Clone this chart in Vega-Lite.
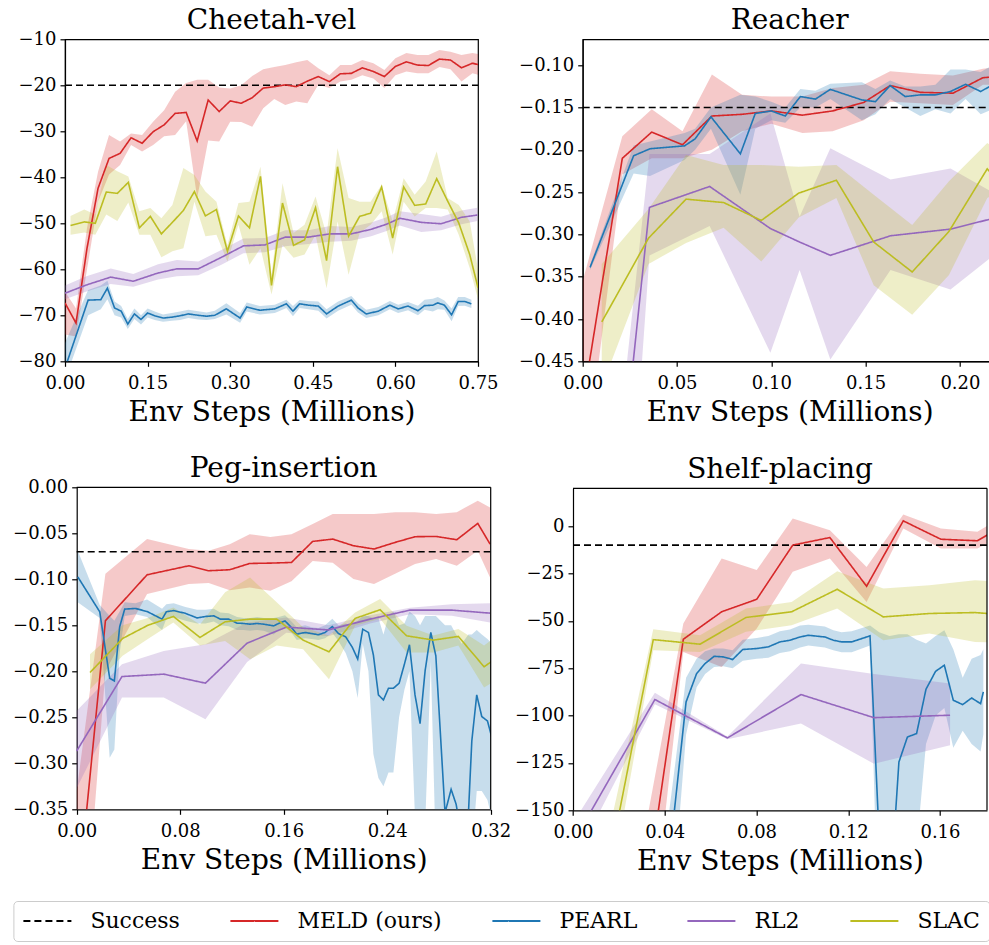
{
  "$schema": "https://vega.github.io/schema/vega-lite/v6.json",
  "background": "white",
  "padding": {"left": 7, "top": 6.3, "right": 0, "bottom": 5},
  "config": {
    "font": "DejaVu Serif",
    "locale": {"number": {"decimal": ".", "thousands": ",", "grouping": [3], "currency": ["$", ""], "minus": "\u2212"}},
    "view": {"stroke": "black", "strokeWidth": 1.2},
    "style": {
      "guide-label": {"font": "DejaVu Serif", "fontSize": 18, "fill": "black"},
      "guide-title": {"font": "DejaVu Serif", "fontSize": 28, "fontWeight": "normal", "fill": "black"},
      "group-title": {"font": "DejaVu Serif", "fontSize": 28, "fontWeight": "normal", "fill": "black"}
    },
    "axis": {"labelFont": "DejaVu Serif", "labelFontSize": 18, "labelColor": "black", "titleFont": "DejaVu Serif", "titleFontSize": 28, "titleFontWeight": "normal", "titleColor": "black", "tickSize": 5, "tickColor": "black", "tickWidth": 1.2, "domainColor": "black", "domainWidth": 1.2, "grid": false, "labelFlush": false, "labelOverlap": false, "labelPadding": 4, "titlePadding": 6},
    "axisX": {"labelPadding": 8},
    "axisY": {"labelExpr": "replace(datum.label, '-', '\u2212')"},
    "title": {"font": "DejaVu Serif", "fontSize": 28, "fontWeight": "normal", "color": "black", "anchor": "middle", "frame": "group", "baseline": "alphabetic"},
    "legend": {"orient": "none", "legendX": -51.6, "legendY": 861.7, "direction": "horizontal", "columns": 5, "symbolType": "M-2.4,0H2.4", "symbolSize": 400, "symbolOffset": 14, "symbolStrokeWidth": 2, "labelFont": "DejaVu Serif", "labelFontSize": 22, "labelColor": "black", "labelOffset": 32, "columnPadding": 46, "strokeColor": "#cccccc", "cornerRadius": 4, "padding": 9, "fillColor": "white"}
  },
  "datasets": {
    "cheetah": [
      {"m":"Success","x":0,"y":-20},{"m":"Success","x":0.75,"y":-20},
      {"m":"MELD (ours)","x":0.00,"y":-67.3,"lo":-74.2,"hi":-64.8},
      {"m":"MELD (ours)","x":0.02,"y":-71.7,"lo":-74.6,"hi":-68.5},
      {"m":"MELD (ours)","x":0.04,"y":-55.4,"lo":-60,"hi":-51},
      {"m":"MELD (ours)","x":0.06,"y":-42.4,"lo":-45.3,"hi":-38.8},
      {"m":"MELD (ours)","x":0.08,"y":-35.9,"lo":-39.4,"hi":-30.8},
      {"m":"MELD (ours)","x":0.10,"y":-34.8,"lo":-37.3,"hi":-32.2},
      {"m":"MELD (ours)","x":0.12,"y":-31.4,"lo":-33.0,"hi":-30.5},
      {"m":"MELD (ours)","x":0.14,"y":-32.6,"lo":-34.4,"hi":-30.8},
      {"m":"MELD (ours)","x":0.16,"y":-30.1,"lo":-33.0,"hi":-27.9},
      {"m":"MELD (ours)","x":0.18,"y":-28.6,"lo":-31.1,"hi":-25.4},
      {"m":"MELD (ours)","x":0.20,"y":-26.1,"lo":-30.8,"hi":-21.4},
      {"m":"MELD (ours)","x":0.22,"y":-25.9,"lo":-27.8,"hi":-19.5},
      {"m":"MELD (ours)","x":0.24,"y":-32.1,"lo":-44.5,"hi":-18.8},
      {"m":"MELD (ours)","x":0.26,"y":-23.2,"lo":-32.0,"hi":-18.8},
      {"m":"MELD (ours)","x":0.28,"y":-25.7,"lo":-32.2,"hi":-20.5},
      {"m":"MELD (ours)","x":0.30,"y":-23.4,"lo":-27.9,"hi":-20.7},
      {"m":"MELD (ours)","x":0.32,"y":-23.9,"lo":-28.0,"hi":-20.0},
      {"m":"MELD (ours)","x":0.34,"y":-22.7,"lo":-29.0,"hi":-18.0},
      {"m":"MELD (ours)","x":0.36,"y":-20.6,"lo":-25.0,"hi":-16.5},
      {"m":"MELD (ours)","x":0.38,"y":-20.3,"lo":-23.0,"hi":-16.0},
      {"m":"MELD (ours)","x":0.40,"y":-19.9,"lo":-24.3,"hi":-15.6},
      {"m":"MELD (ours)","x":0.42,"y":-20.3,"lo":-23.5,"hi":-15.0},
      {"m":"MELD (ours)","x":0.44,"y":-19.1,"lo":-23.9,"hi":-14.5},
      {"m":"MELD (ours)","x":0.46,"y":-18.1,"lo":-19.9,"hi":-16.3},
      {"m":"MELD (ours)","x":0.48,"y":-19.2,"lo":-20.6,"hi":-17.8},
      {"m":"MELD (ours)","x":0.50,"y":-17.5,"lo":-19.2,"hi":-15.6},
      {"m":"MELD (ours)","x":0.52,"y":-17.4,"lo":-18.8,"hi":-15.6},
      {"m":"MELD (ours)","x":0.54,"y":-16.2,"lo":-17.8,"hi":-14.5},
      {"m":"MELD (ours)","x":0.56,"y":-17.0,"lo":-18.5,"hi":-15.2},
      {"m":"MELD (ours)","x":0.58,"y":-18.1,"lo":-20.6,"hi":-16.7},
      {"m":"MELD (ours)","x":0.60,"y":-15.9,"lo":-17.8,"hi":-14.1},
      {"m":"MELD (ours)","x":0.62,"y":-14.9,"lo":-17.0,"hi":-13.0},
      {"m":"MELD (ours)","x":0.64,"y":-15.6,"lo":-17.4,"hi":-13.4},
      {"m":"MELD (ours)","x":0.66,"y":-15.7,"lo":-17.4,"hi":-13.4},
      {"m":"MELD (ours)","x":0.68,"y":-14.3,"lo":-16.0,"hi":-12.3},
      {"m":"MELD (ours)","x":0.70,"y":-14.5,"lo":-16.5,"hi":-12.7},
      {"m":"MELD (ours)","x":0.72,"y":-16.2,"lo":-19.2,"hi":-13.4},
      {"m":"MELD (ours)","x":0.74,"y":-15.2,"lo":-17.4,"hi":-13.0},
      {"m":"MELD (ours)","x":0.76,"y":-15.8,"lo":-18.0,"hi":-13.4},
      {"m":"PEARL","x":0.0,"y":-81.5,"lo":-84,"hi":-76},
      {"m":"PEARL","x":0.042,"y":-66.7,"lo":-70,"hi":-64.5},
      {"m":"PEARL","x":0.065,"y":-66.6,"lo":-68.7,"hi":-63.5},
      {"m":"PEARL","x":0.077,"y":-64.1,"lo":-66.5,"hi":-62.5},
      {"m":"PEARL","x":0.090,"y":-68.4,"lo":-70.0,"hi":-67.0},
      {"m":"PEARL","x":0.102,"y":-69.1,"lo":-70.5,"hi":-68.0},
      {"m":"PEARL","x":0.114,"y":-71.9,"lo":-73.0,"hi":-70.8},
      {"m":"PEARL","x":0.126,"y":-69.7,"lo":-70.8,"hi":-68.5},
      {"m":"PEARL","x":0.138,"y":-70.9,"lo":-72.0,"hi":-70.0},
      {"m":"PEARL","x":0.150,"y":-69.5,"lo":-70.5,"hi":-68.5},
      {"m":"PEARL","x":0.163,"y":-70.1,"lo":-71.0,"hi":-69.2},
      {"m":"PEARL","x":0.178,"y":-70.6,"lo":-71.4,"hi":-69.8},
      {"m":"PEARL","x":0.194,"y":-70.4,"lo":-71.2,"hi":-69.5},
      {"m":"PEARL","x":0.209,"y":-70.1,"lo":-71.0,"hi":-69.2},
      {"m":"PEARL","x":0.224,"y":-69.7,"lo":-70.6,"hi":-68.8},
      {"m":"PEARL","x":0.242,"y":-70.0,"lo":-70.9,"hi":-69.1},
      {"m":"PEARL","x":0.257,"y":-70.2,"lo":-71.0,"hi":-69.4},
      {"m":"PEARL","x":0.272,"y":-70.0,"lo":-70.8,"hi":-69.0},
      {"m":"PEARL","x":0.293,"y":-68.6,"lo":-69.8,"hi":-67.4},
      {"m":"PEARL","x":0.318,"y":-70.6,"lo":-71.6,"hi":-69.5},
      {"m":"PEARL","x":0.330,"y":-68.2,"lo":-69.2,"hi":-67.2},
      {"m":"PEARL","x":0.354,"y":-68.9,"lo":-69.8,"hi":-68.0},
      {"m":"PEARL","x":0.381,"y":-68.6,"lo":-69.5,"hi":-67.7},
      {"m":"PEARL","x":0.402,"y":-67.5,"lo":-68.4,"hi":-66.6},
      {"m":"PEARL","x":0.414,"y":-69.1,"lo":-70.2,"hi":-68.0},
      {"m":"PEARL","x":0.426,"y":-67.5,"lo":-68.4,"hi":-66.7},
      {"m":"PEARL","x":0.442,"y":-67.8,"lo":-68.7,"hi":-66.9},
      {"m":"PEARL","x":0.460,"y":-68.0,"lo":-69.0,"hi":-67.0},
      {"m":"PEARL","x":0.475,"y":-69.7,"lo":-70.7,"hi":-68.7},
      {"m":"PEARL","x":0.496,"y":-68.0,"lo":-69.0,"hi":-67.0},
      {"m":"PEARL","x":0.520,"y":-66.7,"lo":-67.7,"hi":-65.8},
      {"m":"PEARL","x":0.532,"y":-68.4,"lo":-69.4,"hi":-67.4},
      {"m":"PEARL","x":0.547,"y":-69.7,"lo":-70.6,"hi":-68.8},
      {"m":"PEARL","x":0.569,"y":-69.1,"lo":-70.0,"hi":-68.2},
      {"m":"PEARL","x":0.590,"y":-67.8,"lo":-68.7,"hi":-66.9},
      {"m":"PEARL","x":0.605,"y":-68.6,"lo":-69.5,"hi":-67.7},
      {"m":"PEARL","x":0.623,"y":-68.0,"lo":-68.9,"hi":-67.1},
      {"m":"PEARL","x":0.641,"y":-69.0,"lo":-70.0,"hi":-67.9},
      {"m":"PEARL","x":0.653,"y":-67.9,"lo":-68.8,"hi":-66.6},
      {"m":"PEARL","x":0.668,"y":-67.8,"lo":-69.2,"hi":-66.4},
      {"m":"PEARL","x":0.677,"y":-67.3,"lo":-68.7,"hi":-66.0},
      {"m":"PEARL","x":0.689,"y":-67.8,"lo":-68.8,"hi":-66.8},
      {"m":"PEARL","x":0.702,"y":-69.9,"lo":-71.3,"hi":-68.5},
      {"m":"PEARL","x":0.714,"y":-67.0,"lo":-68.0,"hi":-66.0},
      {"m":"PEARL","x":0.726,"y":-67.0,"lo":-67.9,"hi":-66.0},
      {"m":"PEARL","x":0.738,"y":-67.5,"lo":-68.4,"hi":-66.6},
      {"m":"RL2","x":0.0,"y":-65.2,"lo":-66.5,"hi":-63.5},
      {"m":"RL2","x":0.039,"y":-63.4,"lo":-64.8,"hi":-61.5},
      {"m":"RL2","x":0.083,"y":-61.7,"lo":-63.2,"hi":-59.8},
      {"m":"RL2","x":0.124,"y":-62.6,"lo":-63.8,"hi":-61.0},
      {"m":"RL2","x":0.169,"y":-60.8,"lo":-62.2,"hi":-58.9},
      {"m":"RL2","x":0.203,"y":-59.9,"lo":-61.5,"hi":-58.0},
      {"m":"RL2","x":0.242,"y":-59.9,"lo":-61.3,"hi":-58.3},
      {"m":"RL2","x":0.284,"y":-57.4,"lo":-59.0,"hi":-55.8},
      {"m":"RL2","x":0.324,"y":-54.9,"lo":-56.5,"hi":-53.3},
      {"m":"RL2","x":0.363,"y":-54.7,"lo":-56.3,"hi":-53.2},
      {"m":"RL2","x":0.400,"y":-53.0,"lo":-55.0,"hi":-51.5},
      {"m":"RL2","x":0.442,"y":-53.0,"lo":-54.5,"hi":-51.5},
      {"m":"RL2","x":0.481,"y":-52.3,"lo":-54.0,"hi":-50.6},
      {"m":"RL2","x":0.520,"y":-52.3,"lo":-53.8,"hi":-50.8},
      {"m":"RL2","x":0.556,"y":-51.3,"lo":-52.8,"hi":-49.8},
      {"m":"RL2","x":0.584,"y":-50.2,"lo":-51.7,"hi":-48.7},
      {"m":"RL2","x":0.608,"y":-48.9,"lo":-50.5,"hi":-47.4},
      {"m":"RL2","x":0.647,"y":-49.8,"lo":-51.9,"hi":-48.0},
      {"m":"RL2","x":0.683,"y":-50.1,"lo":-51.5,"hi":-48.6},
      {"m":"RL2","x":0.720,"y":-48.7,"lo":-50.2,"hi":-47.2},
      {"m":"RL2","x":0.749,"y":-48.2,"lo":-49.5,"hi":-46.6},
      {"m":"SLAC","x":0.010,"y":-50.5,"lo":-52.5,"hi":-48.4},
      {"m":"SLAC","x":0.035,"y":-49.7,"lo":-52,"hi":-47},
      {"m":"SLAC","x":0.055,"y":-50.0,"lo":-52.5,"hi":-48.1},
      {"m":"SLAC","x":0.075,"y":-43.2,"lo":-48.1,"hi":-37.3},
      {"m":"SLAC","x":0.095,"y":-43.5,"lo":-49.5,"hi":-38.7},
      {"m":"SLAC","x":0.115,"y":-41.1,"lo":-45.5,"hi":-39.8},
      {"m":"SLAC","x":0.135,"y":-51.0,"lo":-52.5,"hi":-47.4},
      {"m":"SLAC","x":0.155,"y":-48.5,"lo":-52.5,"hi":-46.7},
      {"m":"SLAC","x":0.175,"y":-52.3,"lo":-57.4,"hi":-48.9},
      {"m":"SLAC","x":0.195,"y":-49.8,"lo":-56.1,"hi":-46.0},
      {"m":"SLAC","x":0.215,"y":-47.2,"lo":-55.4,"hi":-38.0},
      {"m":"SLAC","x":0.235,"y":-43.1,"lo":-45.3,"hi":-39.5},
      {"m":"SLAC","x":0.255,"y":-48.4,"lo":-52.8,"hi":-43.1},
      {"m":"SLAC","x":0.275,"y":-47.0,"lo":-52.5,"hi":-45.3},
      {"m":"SLAC","x":0.295,"y":-56.1,"lo":-58.3,"hi":-54.7},
      {"m":"SLAC","x":0.315,"y":-48.4,"lo":-50.3,"hi":-45.6},
      {"m":"SLAC","x":0.335,"y":-51.0,"lo":-59.0,"hi":-45.3},
      {"m":"SLAC","x":0.355,"y":-39.8,"lo":-55.4,"hi":-37.7},
      {"m":"SLAC","x":0.375,"y":-63.5,"lo":-65.5,"hi":-61.2},
      {"m":"SLAC","x":0.395,"y":-45.6,"lo":-54.7,"hi":-41.3},
      {"m":"SLAC","x":0.415,"y":-54.8,"lo":-57.5,"hi":-52.1},
      {"m":"SLAC","x":0.435,"y":-53.6,"lo":-56.8,"hi":-50.3},
      {"m":"SLAC","x":0.455,"y":-46.6,"lo":-52.5,"hi":-44.2},
      {"m":"SLAC","x":0.475,"y":-58.1,"lo":-64.1,"hi":-52.5},
      {"m":"SLAC","x":0.495,"y":-37.7,"lo":-49.6,"hi":-33.7},
      {"m":"SLAC","x":0.515,"y":-52.8,"lo":-61.2,"hi":-44.5},
      {"m":"SLAC","x":0.535,"y":-48.5,"lo":-52.1,"hi":-45.3},
      {"m":"SLAC","x":0.555,"y":-47.8,"lo":-50.3,"hi":-45.3},
      {"m":"SLAC","x":0.575,"y":-42.1,"lo":-47.4,"hi":-41.6},
      {"m":"SLAC","x":0.595,"y":-53.2,"lo":-56.8,"hi":-49.6},
      {"m":"SLAC","x":0.615,"y":-42.1,"lo":-45.3,"hi":-40.2},
      {"m":"SLAC","x":0.635,"y":-46.1,"lo":-48.5,"hi":-43.8},
      {"m":"SLAC","x":0.655,"y":-45.8,"lo":-46.7,"hi":-40.9},
      {"m":"SLAC","x":0.675,"y":-40.3,"lo":-46.7,"hi":-34.4},
      {"m":"SLAC","x":0.695,"y":-45.2,"lo":-47.0,"hi":-44.5},
      {"m":"SLAC","x":0.715,"y":-49.9,"lo":-52.5,"hi":-46.0},
      {"m":"SLAC","x":0.735,"y":-56.8,"lo":-59.7,"hi":-49.6},
      {"m":"SLAC","x":0.750,"y":-64.0,"lo":-66.5,"hi":-60.0}
    ],
    "reacher": [
      {"m":"Success","x":0,"y":-0.15},{"m":"Success","x":0.22,"y":-0.15},
      {"m":"MELD (ours)","x":0.0,"y":-0.50,"lo":-0.60,"hi":-0.355},
      {"m":"MELD (ours)","x":0.021,"y":-0.210,"lo":-0.229,"hi":-0.184},
      {"m":"MELD (ours)","x":0.0366,"y":-0.179,"lo":-0.21,"hi":-0.152},
      {"m":"MELD (ours)","x":0.0529,"y":-0.194,"lo":-0.21,"hi":-0.178},
      {"m":"MELD (ours)","x":0.0685,"y":-0.160,"lo":-0.200,"hi":-0.111},
      {"m":"MELD (ours)","x":0.0845,"y":-0.158,"lo":-0.178,"hi":-0.135},
      {"m":"MELD (ours)","x":0.100,"y":-0.154,"lo":-0.169,"hi":-0.137},
      {"m":"MELD (ours)","x":0.1165,"y":-0.159,"lo":-0.180,"hi":-0.137},
      {"m":"MELD (ours)","x":0.1325,"y":-0.154,"lo":-0.178,"hi":-0.127},
      {"m":"MELD (ours)","x":0.149,"y":-0.144,"lo":-0.165,"hi":-0.123},
      {"m":"MELD (ours)","x":0.163,"y":-0.124,"lo":-0.143,"hi":-0.107},
      {"m":"MELD (ours)","x":0.179,"y":-0.132,"lo":-0.145,"hi":-0.110},
      {"m":"MELD (ours)","x":0.1963,"y":-0.133,"lo":-0.147,"hi":-0.112},
      {"m":"MELD (ours)","x":0.2122,"y":-0.1147,"lo":-0.123,"hi":-0.104},
      {"m":"MELD (ours)","x":0.2195,"y":-0.1134,"lo":-0.123,"hi":-0.102},
      {"m":"PEARL","x":0.0039,"y":-0.339,"lo":-0.342,"hi":-0.336},
      {"m":"PEARL","x":0.027,"y":-0.207,"lo":-0.228,"hi":-0.195},
      {"m":"PEARL","x":0.0357,"y":-0.1987,"lo":-0.231,"hi":-0.19},
      {"m":"PEARL","x":0.054,"y":-0.1953,"lo":-0.212,"hi":-0.18},
      {"m":"PEARL","x":0.0596,"y":-0.187,"lo":-0.20,"hi":-0.175},
      {"m":"PEARL","x":0.068,"y":-0.161,"lo":-0.175,"hi":-0.15},
      {"m":"PEARL","x":0.0836,"y":-0.2047,"lo":-0.253,"hi":-0.135},
      {"m":"PEARL","x":0.0915,"y":-0.157,"lo":-0.175,"hi":-0.137},
      {"m":"PEARL","x":0.100,"y":-0.154,"lo":-0.165,"hi":-0.143},
      {"m":"PEARL","x":0.1074,"y":-0.160,"lo":-0.168,"hi":-0.150},
      {"m":"PEARL","x":0.1154,"y":-0.137,"lo":-0.150,"hi":-0.128},
      {"m":"PEARL","x":0.1234,"y":-0.140,"lo":-0.150,"hi":-0.13},
      {"m":"PEARL","x":0.1313,"y":-0.1285,"lo":-0.140,"hi":-0.122},
      {"m":"PEARL","x":0.148,"y":-0.141,"lo":-0.165,"hi":-0.120},
      {"m":"PEARL","x":0.1552,"y":-0.143,"lo":-0.158,"hi":-0.128},
      {"m":"PEARL","x":0.163,"y":-0.124,"lo":-0.140,"hi":-0.118},
      {"m":"PEARL","x":0.171,"y":-0.137,"lo":-0.150,"hi":-0.125},
      {"m":"PEARL","x":0.179,"y":-0.135,"lo":-0.160,"hi":-0.125},
      {"m":"PEARL","x":0.187,"y":-0.135,"lo":-0.152,"hi":-0.123},
      {"m":"PEARL","x":0.195,"y":-0.131,"lo":-0.157,"hi":-0.105},
      {"m":"PEARL","x":0.203,"y":-0.1225,"lo":-0.14,"hi":-0.105},
      {"m":"PEARL","x":0.211,"y":-0.131,"lo":-0.158,"hi":-0.108},
      {"m":"PEARL","x":0.2195,"y":-0.1205,"lo":-0.15,"hi":-0.097},
      {"m":"RL2","x":0.0235,"y":-0.52,"lo":-0.70,"hi":-0.45},
      {"m":"RL2","x":0.0354,"y":-0.268,"lo":-0.325,"hi":-0.205},
      {"m":"RL2","x":0.0673,"y":-0.2433,"lo":-0.29,"hi":-0.205},
      {"m":"RL2","x":0.0995,"y":-0.293,"lo":-0.44,"hi":-0.157},
      {"m":"RL2","x":0.115,"y":-0.309,"lo":-0.342,"hi":-0.279},
      {"m":"RL2","x":0.1313,"y":-0.3247,"lo":-0.448,"hi":-0.198},
      {"m":"RL2","x":0.1632,"y":-0.3016,"lo":-0.342,"hi":-0.235},
      {"m":"RL2","x":0.195,"y":-0.2937,"lo":-0.365,"hi":-0.222},
      {"m":"RL2","x":0.2195,"y":-0.280,"lo":-0.322,"hi":-0.253},
      {"m":"SLAC","x":0.0101,"y":-0.4035,"lo":-0.48,"hi":-0.335},
      {"m":"SLAC","x":0.0349,"y":-0.3044,"lo":-0.335,"hi":-0.27},
      {"m":"SLAC","x":0.0548,"y":-0.2583,"lo":-0.31,"hi":-0.206},
      {"m":"SLAC","x":0.0747,"y":-0.2623,"lo":-0.292,"hi":-0.218},
      {"m":"SLAC","x":0.0947,"y":-0.2835,"lo":-0.332,"hi":-0.218},
      {"m":"SLAC","x":0.1145,"y":-0.2512,"lo":-0.28,"hi":-0.22},
      {"m":"SLAC","x":0.1345,"y":-0.2359,"lo":-0.257,"hi":-0.218},
      {"m":"SLAC","x":0.1543,"y":-0.309,"lo":-0.36,"hi":-0.253},
      {"m":"SLAC","x":0.1747,"y":-0.3444,"lo":-0.395,"hi":-0.289},
      {"m":"SLAC","x":0.1942,"y":-0.2964,"lo":-0.348,"hi":-0.237},
      {"m":"SLAC","x":0.2145,"y":-0.2224,"lo":-0.257,"hi":-0.192},
      {"m":"SLAC","x":0.2195,"y":-0.2354,"lo":-0.25,"hi":-0.20}
    ],
    "peg": [
      {"m":"Success","x":0,"y":-0.07},{"m":"Success","x":0.32,"y":-0.07},
      {"m":"MELD (ours)","x":0.0,"y":-0.46,"lo":-0.60,"hi":-0.33},
      {"m":"MELD (ours)","x":0.0222,"y":-0.145,"lo":-0.20,"hi":-0.094},
      {"m":"MELD (ours)","x":0.0544,"y":-0.0951,"lo":-0.116,"hi":-0.0563},
      {"m":"MELD (ours)","x":0.0866,"y":-0.0853,"lo":-0.105,"hi":-0.067},
      {"m":"MELD (ours)","x":0.102,"y":-0.0907,"lo":-0.104,"hi":-0.069},
      {"m":"MELD (ours)","x":0.1183,"y":-0.0896,"lo":-0.112,"hi":-0.062},
      {"m":"MELD (ours)","x":0.1337,"y":-0.0828,"lo":-0.109,"hi":-0.051},
      {"m":"MELD (ours)","x":0.1497,"y":-0.0824,"lo":-0.1125,"hi":-0.054},
      {"m":"MELD (ours)","x":0.166,"y":-0.0817,"lo":-0.102,"hi":-0.051},
      {"m":"MELD (ours)","x":0.1824,"y":-0.0588,"lo":-0.080,"hi":-0.040},
      {"m":"MELD (ours)","x":0.1979,"y":-0.0563,"lo":-0.082,"hi":-0.029},
      {"m":"MELD (ours)","x":0.2139,"y":-0.0635,"lo":-0.0998,"hi":-0.029},
      {"m":"MELD (ours)","x":0.2298,"y":-0.0671,"lo":-0.105,"hi":-0.029},
      {"m":"MELD (ours)","x":0.2461,"y":-0.0599,"lo":-0.094,"hi":-0.027},
      {"m":"MELD (ours)","x":0.2615,"y":-0.0537,"lo":-0.0835,"hi":-0.027},
      {"m":"MELD (ours)","x":0.2778,"y":-0.0534,"lo":-0.078,"hi":-0.029},
      {"m":"MELD (ours)","x":0.2938,"y":-0.057,"lo":-0.0853,"hi":-0.027},
      {"m":"MELD (ours)","x":0.3100,"y":-0.0392,"lo":-0.069,"hi":-0.0145},
      {"m":"MELD (ours)","x":0.3195,"y":-0.0617,"lo":-0.098,"hi":-0.022},
      {"m":"PEARL","x":0.0008,"y":-0.0973,"lo":-0.125,"hi":-0.069},
      {"m":"PEARL","x":0.0178,"y":-0.1353,"lo":-0.142,"hi":-0.128},
      {"m":"PEARL","x":0.0255,"y":-0.2075,"lo":-0.294,"hi":-0.14},
      {"m":"PEARL","x":0.0291,"y":-0.2104,"lo":-0.285,"hi":-0.145},
      {"m":"PEARL","x":0.0332,"y":-0.1517,"lo":-0.18,"hi":-0.135},
      {"m":"PEARL","x":0.0371,"y":-0.1324,"lo":-0.14,"hi":-0.125},
      {"m":"PEARL","x":0.0454,"y":-0.1317,"lo":-0.138,"hi":-0.126},
      {"m":"PEARL","x":0.0544,"y":-0.135,"lo":-0.141,"hi":-0.122},
      {"m":"PEARL","x":0.066,"y":-0.1433,"lo":-0.155,"hi":-0.132},
      {"m":"PEARL","x":0.0693,"y":-0.1353,"lo":-0.143,"hi":-0.127},
      {"m":"PEARL","x":0.075,"y":-0.134,"lo":-0.141,"hi":-0.126},
      {"m":"PEARL","x":0.084,"y":-0.137,"lo":-0.145,"hi":-0.13},
      {"m":"PEARL","x":0.093,"y":-0.142,"lo":-0.148,"hi":-0.133},
      {"m":"PEARL","x":0.0995,"y":-0.1404,"lo":-0.148,"hi":-0.133},
      {"m":"PEARL","x":0.106,"y":-0.1397,"lo":-0.146,"hi":-0.132},
      {"m":"PEARL","x":0.111,"y":-0.1433,"lo":-0.15,"hi":-0.136},
      {"m":"PEARL","x":0.1175,"y":-0.1433,"lo":-0.151,"hi":-0.137},
      {"m":"PEARL","x":0.124,"y":-0.1477,"lo":-0.155,"hi":-0.141},
      {"m":"PEARL","x":0.129,"y":-0.148,"lo":-0.155,"hi":-0.142},
      {"m":"PEARL","x":0.134,"y":-0.1488,"lo":-0.156,"hi":-0.142},
      {"m":"PEARL","x":0.1394,"y":-0.148,"lo":-0.155,"hi":-0.141},
      {"m":"PEARL","x":0.1446,"y":-0.1488,"lo":-0.156,"hi":-0.142},
      {"m":"PEARL","x":0.1523,"y":-0.1506,"lo":-0.16,"hi":-0.142},
      {"m":"PEARL","x":0.1561,"y":-0.148,"lo":-0.155,"hi":-0.141},
      {"m":"PEARL","x":0.161,"y":-0.1452,"lo":-0.152,"hi":-0.139},
      {"m":"PEARL","x":0.166,"y":-0.1524,"lo":-0.158,"hi":-0.146},
      {"m":"PEARL","x":0.1701,"y":-0.1596,"lo":-0.166,"hi":-0.152},
      {"m":"PEARL","x":0.1765,"y":-0.1578,"lo":-0.164,"hi":-0.15},
      {"m":"PEARL","x":0.1817,"y":-0.159,"lo":-0.165,"hi":-0.152},
      {"m":"PEARL","x":0.1868,"y":-0.1603,"lo":-0.166,"hi":-0.153},
      {"m":"PEARL","x":0.192,"y":-0.1578,"lo":-0.164,"hi":-0.15},
      {"m":"PEARL","x":0.1976,"y":-0.1513,"lo":-0.158,"hi":-0.143},
      {"m":"PEARL","x":0.2023,"y":-0.159,"lo":-0.167,"hi":-0.15},
      {"m":"PEARL","x":0.2079,"y":-0.1625,"lo":-0.18,"hi":-0.148},
      {"m":"PEARL","x":0.2131,"y":-0.1741,"lo":-0.2,"hi":-0.15},
      {"m":"PEARL","x":0.2172,"y":-0.1868,"lo":-0.229,"hi":-0.145},
      {"m":"PEARL","x":0.2211,"y":-0.1542,"lo":-0.17,"hi":-0.14},
      {"m":"PEARL","x":0.2255,"y":-0.1578,"lo":-0.20,"hi":-0.14},
      {"m":"PEARL","x":0.2293,"y":-0.1821,"lo":-0.29,"hi":-0.142},
      {"m":"PEARL","x":0.2332,"y":-0.2257,"lo":-0.316,"hi":-0.142},
      {"m":"PEARL","x":0.2371,"y":-0.2311,"lo":-0.325,"hi":-0.16},
      {"m":"PEARL","x":0.241,"y":-0.2184,"lo":-0.31,"hi":-0.14},
      {"m":"PEARL","x":0.2448,"y":-0.2184,"lo":-0.31,"hi":-0.135},
      {"m":"PEARL","x":0.2492,"y":-0.213,"lo":-0.25,"hi":-0.15},
      {"m":"PEARL","x":0.2533,"y":-0.1923,"lo":-0.22,"hi":-0.148},
      {"m":"PEARL","x":0.2572,"y":-0.1712,"lo":-0.2,"hi":-0.135},
      {"m":"PEARL","x":0.2615,"y":-0.2257,"lo":-0.36,"hi":-0.14},
      {"m":"PEARL","x":0.2654,"y":-0.2568,"lo":-0.40,"hi":-0.15},
      {"m":"PEARL","x":0.2693,"y":-0.1995,"lo":-0.37,"hi":-0.14},
      {"m":"PEARL","x":0.2737,"y":-0.1578,"lo":-0.19,"hi":-0.14},
      {"m":"PEARL","x":0.2776,"y":-0.1832,"lo":-0.40,"hi":-0.14},
      {"m":"PEARL","x":0.2847,"y":-0.3537,"lo":-0.50,"hi":-0.15},
      {"m":"PEARL","x":0.2894,"y":-0.3283,"lo":-0.50,"hi":-0.15},
      {"m":"PEARL","x":0.2933,"y":-0.3446,"lo":-0.50,"hi":-0.16},
      {"m":"PEARL","x":0.2976,"y":-0.38,"lo":-0.50,"hi":-0.17},
      {"m":"PEARL","x":0.3028,"y":-0.354,"lo":-0.45,"hi":-0.16},
      {"m":"PEARL","x":0.3054,"y":-0.2757,"lo":-0.40,"hi":-0.16},
      {"m":"PEARL","x":0.3092,"y":-0.2257,"lo":-0.33,"hi":-0.155},
      {"m":"PEARL","x":0.3131,"y":-0.2492,"lo":-0.33,"hi":-0.16},
      {"m":"PEARL","x":0.3175,"y":-0.254,"lo":-0.34,"hi":-0.165},
      {"m":"PEARL","x":0.3209,"y":-0.272,"lo":-0.36,"hi":-0.17},
      {"m":"RL2","x":0.0,"y":-0.2866,"lo":-0.327,"hi":-0.243},
      {"m":"RL2","x":0.035,"y":-0.2057,"lo":-0.2285,"hi":-0.1923},
      {"m":"RL2","x":0.0673,"y":-0.2031,"lo":-0.2285,"hi":-0.178},
      {"m":"RL2","x":0.0995,"y":-0.2129,"lo":-0.252,"hi":-0.1705},
      {"m":"RL2","x":0.1317,"y":-0.1694,"lo":-0.19,"hi":-0.147},
      {"m":"RL2","x":0.162,"y":-0.152,"lo":-0.158,"hi":-0.1415},
      {"m":"RL2","x":0.1945,"y":-0.155,"lo":-0.162,"hi":-0.150},
      {"m":"RL2","x":0.2267,"y":-0.1433,"lo":-0.148,"hi":-0.139},
      {"m":"RL2","x":0.2576,"y":-0.1335,"lo":-0.138,"hi":-0.131},
      {"m":"RL2","x":0.2899,"y":-0.1335,"lo":-0.1397,"hi":-0.127},
      {"m":"RL2","x":0.3195,"y":-0.1368,"lo":-0.147,"hi":-0.126},
      {"m":"SLAC","x":0.0103,"y":-0.2013,"lo":-0.2195,"hi":-0.1814},
      {"m":"SLAC","x":0.0355,"y":-0.1643,"lo":-0.183,"hi":-0.150},
      {"m":"SLAC","x":0.055,"y":-0.150,"lo":-0.165,"hi":-0.142},
      {"m":"SLAC","x":0.0747,"y":-0.1404,"lo":-0.147,"hi":-0.1306},
      {"m":"SLAC","x":0.0953,"y":-0.1632,"lo":-0.172,"hi":-0.149},
      {"m":"SLAC","x":0.1147,"y":-0.1462,"lo":-0.167,"hi":-0.114},
      {"m":"SLAC","x":0.134,"y":-0.1433,"lo":-0.187,"hi":-0.098},
      {"m":"SLAC","x":0.1546,"y":-0.1433,"lo":-0.172,"hi":-0.125},
      {"m":"SLAC","x":0.175,"y":-0.1661,"lo":-0.176,"hi":-0.152},
      {"m":"SLAC","x":0.195,"y":-0.1788,"lo":-0.2086,"hi":-0.161},
      {"m":"SLAC","x":0.2152,"y":-0.1425,"lo":-0.1505,"hi":-0.136},
      {"m":"SLAC","x":0.2345,"y":-0.1331,"lo":-0.143,"hi":-0.1215},
      {"m":"SLAC","x":0.255,"y":-0.1614,"lo":-0.1795,"hi":-0.1505},
      {"m":"SLAC","x":0.2757,"y":-0.1661,"lo":-0.1795,"hi":-0.161},
      {"m":"SLAC","x":0.295,"y":-0.1621,"lo":-0.172,"hi":-0.154},
      {"m":"SLAC","x":0.3149,"y":-0.1951,"lo":-0.2176,"hi":-0.172},
      {"m":"SLAC","x":0.335,"y":-0.175,"lo":-0.20,"hi":-0.15}
    ],
    "shelf": [
      {"m":"Success","x":0,"y":-10},{"m":"Success","x":0.2,"y":-10},
      {"m":"MELD (ours)","x":0.033,"y":-185,"lo":-230,"hi":-150},
      {"m":"MELD (ours)","x":0.0481,"y":-59.7,"lo":-66.4,"hi":-51.4},
      {"m":"MELD (ours)","x":0.0648,"y":-45.2,"lo":-74.3,"hi":-17.1},
      {"m":"MELD (ours)","x":0.0801,"y":-38.6,"lo":-54.0,"hi":-23.2},
      {"m":"MELD (ours)","x":0.0958,"y":-10.0,"lo":-24.1,"hi":4.0},
      {"m":"MELD (ours)","x":0.112,"y":-6.0,"lo":-17.0,"hi":-2.1},
      {"m":"MELD (ours)","x":0.128,"y":-31.7,"lo":-40.0,"hi":-21.5},
      {"m":"MELD (ours)","x":0.144,"y":2.8,"lo":-1.2,"hi":6.2},
      {"m":"MELD (ours)","x":0.1604,"y":-6.9,"lo":-11.8,"hi":-1.2},
      {"m":"MELD (ours)","x":0.1763,"y":-7.7,"lo":-11.8,"hi":-3.0},
      {"m":"MELD (ours)","x":0.19,"y":2,"lo":-3,"hi":7},
      {"m":"PEARL","x":0.042,"y":-175,"lo":-220,"hi":-150},
      {"m":"PEARL","x":0.0493,"y":-92.8,"lo":-110,"hi":-80},
      {"m":"PEARL","x":0.0539,"y":-77.8,"lo":-85,"hi":-70},
      {"m":"PEARL","x":0.0576,"y":-72.5,"lo":-78,"hi":-66},
      {"m":"PEARL","x":0.0615,"y":-68.7,"lo":-74.3,"hi":-64.6},
      {"m":"PEARL","x":0.0655,"y":-69.0,"lo":-74,"hi":-64.6},
      {"m":"PEARL","x":0.0696,"y":-70.4,"lo":-75,"hi":-65.5},
      {"m":"PEARL","x":0.074,"y":-65.1,"lo":-71,"hi":-60},
      {"m":"PEARL","x":0.0801,"y":-64.6,"lo":-70,"hi":-59},
      {"m":"PEARL","x":0.0852,"y":-63.7,"lo":-69.5,"hi":-58},
      {"m":"PEARL","x":0.0902,"y":-61.1,"lo":-67,"hi":-55.5},
      {"m":"PEARL","x":0.0946,"y":-60.2,"lo":-66,"hi":-54.5},
      {"m":"PEARL","x":0.099,"y":-58.5,"lo":-64,"hi":-52.5},
      {"m":"PEARL","x":0.1026,"y":-57.6,"lo":-63,"hi":-52},
      {"m":"PEARL","x":0.1098,"y":-58.5,"lo":-64,"hi":-53},
      {"m":"PEARL","x":0.1135,"y":-60.2,"lo":-65.5,"hi":-55},
      {"m":"PEARL","x":0.1171,"y":-61.1,"lo":-66.5,"hi":-56},
      {"m":"PEARL","x":0.1215,"y":-61.1,"lo":-66.5,"hi":-55.5},
      {"m":"PEARL","x":0.1295,"y":-57.9,"lo":-63,"hi":-52.5},
      {"m":"PEARL","x":0.1335,"y":-165,"lo":-230,"hi":-56},
      {"m":"PEARL","x":0.138,"y":-200,"lo":-260,"hi":-58},
      {"m":"PEARL","x":0.1421,"y":-124.5,"lo":-200,"hi":-57},
      {"m":"PEARL","x":0.1458,"y":-111.3,"lo":-180,"hi":-57},
      {"m":"PEARL","x":0.1498,"y":-109.5,"lo":-170,"hi":-60},
      {"m":"PEARL","x":0.1539,"y":-86.1,"lo":-115,"hi":-62},
      {"m":"PEARL","x":0.1581,"y":-76.6,"lo":-100,"hi":-58},
      {"m":"PEARL","x":0.1619,"y":-73.4,"lo":-96,"hi":-55},
      {"m":"PEARL","x":0.1658,"y":-91.9,"lo":-117,"hi":-65},
      {"m":"PEARL","x":0.1699,"y":-94.2,"lo":-108,"hi":-80},
      {"m":"PEARL","x":0.1738,"y":-90.7,"lo":-115,"hi":-70},
      {"m":"PEARL","x":0.1777,"y":-93.7,"lo":-119,"hi":-68},
      {"m":"PEARL","x":0.1789,"y":-87.5,"lo":-110,"hi":-65},
      {"m":"RL2","x":0.0035,"y":-159.7,"lo":-170,"hi":-150},
      {"m":"RL2","x":0.0357,"y":-91.5,"lo":-94,"hi":-88},
      {"m":"RL2","x":0.0673,"y":-111.8,"lo":-112.5,"hi":-111},
      {"m":"RL2","x":0.0994,"y":-88.9,"lo":-104.2,"hi":-72.5},
      {"m":"RL2","x":0.1312,"y":-101.1,"lo":-125.4,"hi":-78},
      {"m":"RL2","x":0.1644,"y":-99.8,"lo":-115.7,"hi":-83},
      {"m":"SLAC","x":0.015,"y":-183,"lo":-200,"hi":-165},
      {"m":"SLAC","x":0.035,"y":-59.9,"lo":-65.5,"hi":-54.4},
      {"m":"SLAC","x":0.0554,"y":-62.3,"lo":-66.4,"hi":-57.6},
      {"m":"SLAC","x":0.0754,"y":-48.2,"lo":-55.8,"hi":-43.5},
      {"m":"SLAC","x":0.0953,"y":-45.2,"lo":-52.3,"hi":-40.0},
      {"m":"SLAC","x":0.1152,"y":-33.3,"lo":-43.5,"hi":-23.8},
      {"m":"SLAC","x":0.1353,"y":-47.9,"lo":-60.2,"hi":-32.9},
      {"m":"SLAC","x":0.1554,"y":-46.1,"lo":-56.7,"hi":-31.2},
      {"m":"SLAC","x":0.1753,"y":-45.6,"lo":-61.1,"hi":-28.5},
      {"m":"SLAC","x":0.1953,"y":-47.5,"lo":-62,"hi":-30}
    ]
  },
  "columns": 2,
  "align": "none",
  "spacing": {"row": 28, "column": 2.7},
  "concat": [
    {
      "width": 413, "height": 322,
      "title": {"text": "Cheetah-vel", "offset": -5},
      "data": {"name": "cheetah"},
      "layer": [
        {"transform": [{"filter": "datum.m !== 'Success'"}],
         "mark": {"type": "area", "opacity": 0.25, "clip": true},
         "encoding": {
           "x": {"field": "x", "type": "quantitative", "scale": {"domain": [0, 0.75], "nice": false, "zero": false}, "axis": {"title": "Env Steps (Millions)", "values": [0, 0.15, 0.3, 0.45, 0.6, 0.75], "format": ".2f"}},
           "y": {"field": "lo", "type": "quantitative", "scale": {"domain": [-80, -10], "nice": false, "zero": false}, "axis": {"title": null, "values": [-80, -70, -60, -50, -40, -30, -20, -10], "format": "d", "minExtent": 56.6}},
           "y2": {"field": "hi"},
           "fill": {"field": "m", "type": "nominal", "legend": null, "scale": {"domain": ["MELD (ours)", "PEARL", "RL2", "SLAC"], "range": ["#d62728", "#1f77b4", "#9467bd", "#bcbd22"]}}
         }},
        {"mark": {"type": "line", "clip": true, "strokeWidth": 1.6},
         "encoding": {
           "x": {"field": "x", "type": "quantitative", "axis": {"title": "Env Steps (Millions)"}},
           "y": {"field": "y", "type": "quantitative", "axis": {"title": null}},
           "color": {"field": "m", "type": "nominal", "legend": {"title": null, "orient": "none", "legendX": -51.6, "legendY": 861.7, "direction": "horizontal", "columns": 5, "symbolType": "M-2.4,0H2.4"}, "scale": {"domain": ["Success", "MELD (ours)", "PEARL", "RL2", "SLAC"], "range": ["black", "#d62728", "#1f77b4", "#9467bd", "#bcbd22"]}},
           "strokeDash": {"field": "m", "type": "nominal", "legend": {"title": null, "orient": "none", "legendX": -51.6, "legendY": 861.7, "direction": "horizontal", "columns": 5, "symbolType": "M-2.4,0H2.4"}, "scale": {"domain": ["Success", "MELD (ours)", "PEARL", "RL2", "SLAC"], "range": [[7, 4], [1, 0], [1, 0], [1, 0], [1, 0]]}}
         }}
      ]
    },
    {
      "width": 414, "height": 322,
      "title": {"text": "Reacher", "offset": 4},
      "data": {"name": "reacher"},
      "layer": [
        {"transform": [{"filter": "datum.m !== 'Success'"}],
         "mark": {"type": "area", "opacity": 0.25, "clip": true},
         "encoding": {
           "x": {"field": "x", "type": "quantitative", "scale": {"domain": [0, 0.2195], "nice": false, "zero": false}, "axis": {"title": "Env Steps (Millions)", "values": [0, 0.05, 0.1, 0.15, 0.2], "format": ".2f"}},
           "y": {"field": "lo", "type": "quantitative", "scale": {"domain": [-0.45, -0.0693], "nice": false, "zero": false}, "axis": {"title": null, "values": [-0.45, -0.4, -0.35, -0.3, -0.25, -0.2, -0.15, -0.1], "format": ".2f", "minExtent": 67.7}},
           "y2": {"field": "hi"},
           "fill": {"field": "m", "type": "nominal", "legend": null}
         }},
        {"mark": {"type": "line", "clip": true, "strokeWidth": 1.6},
         "encoding": {
           "x": {"field": "x", "type": "quantitative", "axis": {"title": "Env Steps (Millions)"}},
           "y": {"field": "y", "type": "quantitative", "axis": {"title": null}},
           "color": {"field": "m", "type": "nominal", "legend": {"title": null, "orient": "none", "legendX": -51.6, "legendY": 861.7, "direction": "horizontal", "columns": 5, "symbolType": "M-2.4,0H2.4"}},
           "strokeDash": {"field": "m", "type": "nominal", "legend": {"title": null, "orient": "none", "legendX": -51.6, "legendY": 861.7, "direction": "horizontal", "columns": 5, "symbolType": "M-2.4,0H2.4"}}
         }}
      ]
    },
    {
      "width": 425.7, "height": 322,
      "view": {"stroke": null},
      "title": {"text": "Peg-insertion", "offset": -5, "dx": 5.85},
      "data": {"name": "peg"},
      "layer": [
        {"transform": [{"filter": "datum.m !== 'Success'"}],
         "mark": {"type": "area", "opacity": 0.25, "clip": true},
         "encoding": {
           "x": {"field": "x", "type": "quantitative", "scale": {"domain": [0, 0.32], "range": [11.7, 425.7], "nice": false, "zero": false}, "axis": {"title": "Env Steps (Millions)", "values": [0, 0.08, 0.16, 0.24, 0.32], "format": ".2f"}},
           "y": {"field": "lo", "type": "quantitative", "scale": {"domain": [-0.35, 0], "nice": false, "zero": false}, "axis": {"title": null, "values": [-0.35, -0.3, -0.25, -0.2, -0.15, -0.1, -0.05, 0], "format": ".2f", "offset": -11.7, "minExtent": 0}},
           "y2": {"field": "hi"},
           "fill": {"field": "m", "type": "nominal", "legend": null}
         }},
        {"mark": {"type": "line", "clip": true, "strokeWidth": 1.6},
         "encoding": {
           "x": {"field": "x", "type": "quantitative", "axis": {"title": "Env Steps (Millions)"}},
           "y": {"field": "y", "type": "quantitative", "axis": {"title": null}},
           "color": {"field": "m", "type": "nominal", "legend": {"title": null, "orient": "none", "legendX": -51.6, "legendY": 861.7, "direction": "horizontal", "columns": 5, "symbolType": "M-2.4,0H2.4"}},
           "strokeDash": {"field": "m", "type": "nominal", "legend": {"title": null, "orient": "none", "legendX": -51.6, "legendY": 861.7, "direction": "horizontal", "columns": 5, "symbolType": "M-2.4,0H2.4"}}
         }},
        {"data": {"values": [{}]},
         "mark": {"type": "rule", "color": "black", "strokeWidth": 1.2},
         "encoding": {"x": {"datum": 0}, "x2": {"datum": 0.32}, "y": {"datum": 0}}},
        {"data": {"values": [{}]},
         "mark": {"type": "rule", "color": "black", "strokeWidth": 1.2},
         "encoding": {"x": {"datum": 0.32}, "y": {"datum": -0.35}, "y2": {"datum": 0}}}
      ]
    },
    {
      "width": 420.3, "height": 322,
      "view": {"stroke": null},
      "title": {"text": "Shelf-placing", "offset": 4, "dx": 3.15},
      "data": {"name": "shelf"},
      "layer": [
        {"transform": [{"filter": "datum.m !== 'Success'"}],
         "mark": {"type": "area", "opacity": 0.25, "clip": true},
         "encoding": {
           "x": {"field": "x", "type": "quantitative", "scale": {"domain": [0, 0.1805], "range": [6.3, 420.3], "nice": false, "zero": false}, "axis": {"title": "Env Steps (Millions)", "values": [0, 0.04, 0.08, 0.12, 0.16], "format": ".2f"}},
           "y": {"field": "lo", "type": "quantitative", "scale": {"domain": [-150, 20], "nice": false, "zero": false}, "axis": {"title": null, "values": [-150, -125, -100, -75, -50, -25, 0], "format": "d", "offset": -6.3, "minExtent": 0}},
           "y2": {"field": "hi"},
           "fill": {"field": "m", "type": "nominal", "legend": null}
         }},
        {"mark": {"type": "line", "clip": true, "strokeWidth": 1.6},
         "encoding": {
           "x": {"field": "x", "type": "quantitative", "axis": {"title": "Env Steps (Millions)"}},
           "y": {"field": "y", "type": "quantitative", "axis": {"title": null}},
           "color": {"field": "m", "type": "nominal", "legend": {"title": null, "orient": "none", "legendX": -51.6, "legendY": 861.7, "direction": "horizontal", "columns": 5, "symbolType": "M-2.4,0H2.4"}},
           "strokeDash": {"field": "m", "type": "nominal", "legend": {"title": null, "orient": "none", "legendX": -51.6, "legendY": 861.7, "direction": "horizontal", "columns": 5, "symbolType": "M-2.4,0H2.4"}}
         }},
        {"data": {"values": [{}]},
         "mark": {"type": "rule", "color": "black", "strokeWidth": 1.2},
         "encoding": {"x": {"datum": 0}, "x2": {"datum": 0.1805}, "y": {"datum": 20}}},
        {"data": {"values": [{}]},
         "mark": {"type": "rule", "color": "black", "strokeWidth": 1.2},
         "encoding": {"x": {"datum": 0.1805}, "y": {"datum": -150}, "y2": {"datum": 20}}}
      ]
    }
  ]
}
